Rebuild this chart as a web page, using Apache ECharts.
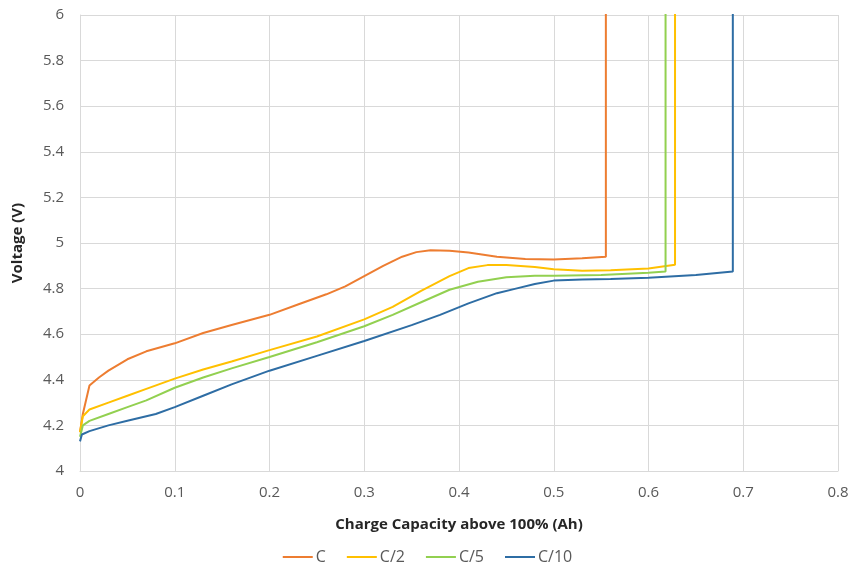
<!DOCTYPE html>
<html><head><meta charset="utf-8">
<script src="https://cdn.jsdelivr.net/npm/echarts@6/dist/echarts.min.js"></script>
<style>html,body{margin:0;padding:0;background:#fff}#c{width:854px;height:570px}</style>
</head><body><div id="c"></div>
<script>
const seriesNames = ['C', 'C/2', 'C/5', 'C/10'];
const cX = [0,0.003,0.01,0.02,0.03,0.05,0.07,0.1,0.13,0.16,0.2,0.23,0.26,0.28,0.3,0.32,0.34,0.355,0.37,0.39,0.41,0.44,0.47,0.5,0.53,0.555,0.555];
const cY = [4.17,4.25,4.375,4.41,4.44,4.49,4.525,4.56,4.605,4.64,4.685,4.73,4.775,4.81,4.855,4.9,4.94,4.96,4.968,4.966,4.958,4.94,4.93,4.928,4.933,4.94,6.5];
const c2X = [0,0.003,0.01,0.03,0.05,0.07,0.1,0.13,0.16,0.2,0.25,0.3,0.33,0.36,0.39,0.41,0.43,0.45,0.48,0.5,0.53,0.56,0.6,0.628,0.628];
const c2Y = [4.17,4.24,4.27,4.30,4.33,4.36,4.405,4.445,4.48,4.53,4.59,4.665,4.72,4.79,4.855,4.89,4.903,4.903,4.895,4.885,4.878,4.88,4.888,4.905,6.5];
const c5X = [0,0.003,0.01,0.03,0.05,0.07,0.1,0.13,0.16,0.2,0.25,0.3,0.33,0.36,0.39,0.42,0.45,0.48,0.5,0.55,0.6,0.618,0.618];
const c5Y = [4.15,4.20,4.22,4.25,4.28,4.31,4.365,4.41,4.45,4.50,4.565,4.635,4.685,4.74,4.795,4.83,4.85,4.856,4.856,4.86,4.87,4.875,6.5];
const c10X = [0,0.002,0.01,0.03,0.05,0.08,0.1,0.13,0.16,0.2,0.25,0.3,0.35,0.38,0.41,0.44,0.46,0.48,0.5,0.53,0.56,0.6,0.65,0.689,0.689];
const c10Y = [4.13,4.16,4.175,4.20,4.22,4.25,4.28,4.33,4.38,4.44,4.505,4.57,4.64,4.685,4.735,4.78,4.80,4.82,4.835,4.84,4.842,4.848,4.86,4.875,6.5];
const colors = ['#ED7D31', '#FFC000', '#92D050', '#2E6DA4'];
const xs = [cX, c2X, c5X, c10X];
const ys = [cY, c2Y, c5Y, c10Y];

const font = 'Open Sans, Lato, sans-serif';
const chart = echarts.init(document.getElementById('c'));
chart.setOption({
  animation: false,
  color: colors,
  grid: {left: 80, right: 16, top: 15, bottom: 99},
  legend: {
    bottom: 0, left: 'center', itemWidth: 30, itemHeight: 2, itemGap: 20,
    textStyle: {fontFamily: font, fontSize: 16, color: '#595959', padding: [0,0,0,-2]},
    data: seriesNames
  },
  xAxis: {
    type: 'value', min: 0, max: 0.8, interval: 0.1,
    name: 'Charge Capacity above 100% (Ah)', nameLocation: 'middle', nameGap: 46,
    nameTextStyle: {fontFamily: font, fontSize: 15, fontWeight: 'bold', color: '#262626'},
    axisLine: {show: true, lineStyle: {color: '#d9d9d9'}},
    axisTick: {show: false},
    axisLabel: {fontFamily: font, fontSize: 15, color: '#595959', margin: 14},
    splitLine: {show: true, lineStyle: {color: '#d9d9d9'}}
  },
  yAxis: {
    type: 'value', min: 4, max: 6, interval: 0.2,
    name: 'Voltage (V)', nameLocation: 'middle', nameGap: 55,
    nameTextStyle: {fontFamily: font, fontSize: 15, fontWeight: 'bold', color: '#262626'},
    axisLine: {show: true, lineStyle: {color: '#d9d9d9'}},
    axisTick: {show: false},
    axisLabel: {fontFamily: font, fontSize: 15, color: '#595959', margin: 16},
    splitLine: {show: true, lineStyle: {color: '#d9d9d9'}}
  },
  series: seriesNames.map((n, i) => ({
    name: n, type: 'line', symbol: 'none', clip: true,
    lineStyle: {width: 2, color: colors[i]},
    data: xs[i].map((x, j) => [x, ys[i][j]])
  }))
});
</script></body></html>
